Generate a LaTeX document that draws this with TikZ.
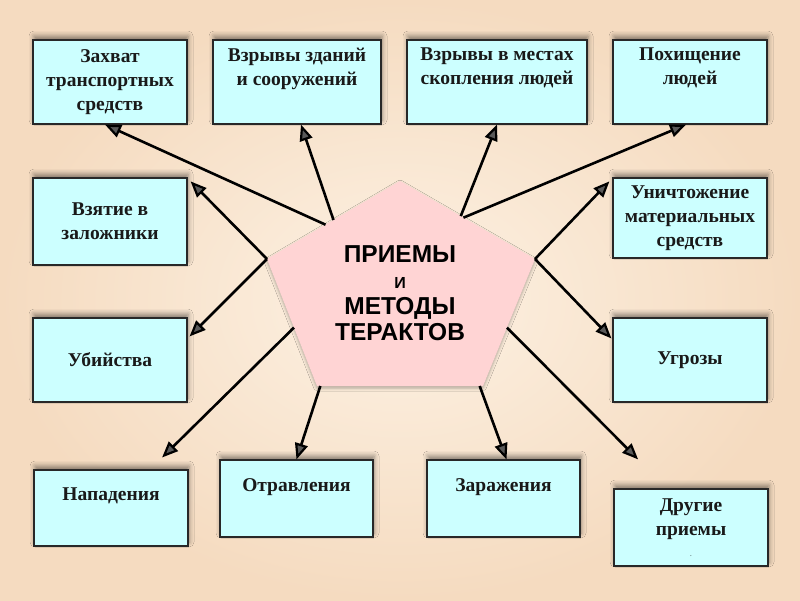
\documentclass[tikz,border=0pt]{standalone}
\usepackage{fontspec}
\setmainfont{Liberation Serif}
\setsansfont{Liberation Sans}
\usetikzlibrary{arrows.meta,calc,shadows.blur}
\definecolor{bginner}{RGB}{253,242,228}
\definecolor{bgouter}{RGB}{245,219,192}
\definecolor{boxcyan}{RGB}{204,255,255}
\definecolor{pentpink}{RGB}{255,212,212}
\definecolor{boxline}{RGB}{40,40,40}

\begin{document}
\begin{tikzpicture}[
  x=1pt, y=-1pt,
  box/.style={draw=boxline, line width=1.2pt, fill=boxcyan, align=center, inner sep=0pt, minimum width=154pt, font=\fontsize{19.5}{24}\selectfont\bfseries, text=black!90, blur shadow={shadow xshift=1pt, shadow yshift=4pt, shadow opacity=45, shadow blur radius=5pt}},
  arr/.style={-{Triangle[length=16pt, width=13pt, line width=2.2pt, fill=black!65]}, line width=2.6pt},
  title/.style={align=center, font=\sffamily\bfseries\fontsize{24.5}{26}\selectfont}
]
\shade[inner color=bginner, outer color=bgouter] (0,0) rectangle (800,600);

% boxes round the centre
\node[box, minimum height=84pt] (capture) at (110,82) {Захват\\транспортных\\средств};
\node[box, minimum width=168pt, minimum height=84pt] (blastbld) at (297,82) {Взрывы зданий\\и сооружений\\\strut};
\node[box, minimum width=180pt, minimum height=84pt] (blastcrowd) at (497,82) {Взрывы в местах\\скопления людей\\\strut};
\node[box, minimum height=84pt] (kidnap) at (690,82) {Похищение\\людей\\\strut};
\node[box, minimum height=87pt] (hostage) at (110,221.5) {Взятие в\\заложники};
\node[box, minimum height=80pt] (destroy) at (690,218) {Уничтожение\\материальных\\средств};
\node[box, minimum height=84pt] (murder) at (110,360) {Убийства};
\node[box, minimum height=84pt] (threat) at (690,360) {Угрозы};
\node[box, minimum height=76pt] (attack) at (111,508) {Нападения\\[-4pt]\strut};
\node[box, minimum width=153pt, minimum height=77pt] (poison) at (296.5,498.5) {Отравления\\[-4pt]\strut};
\node[box, minimum width=153pt, minimum height=77pt] (infect) at (503.5,498.5) {Заражения\\[-4pt]\strut};
\node[box, minimum height=77pt] (other) at (691,527.5) {Другие\\приемы\\[-3pt]{\tiny .}};

% centre pentagon
\coordinate (pT) at (400,181);
\coordinate (pL) at (267,259);
\coordinate (pR) at (535,259);
\coordinate (pBL) at (317,386);
\coordinate (pBR) at (483,386);
\fill[pentpink, blur shadow={shadow xshift=0pt, shadow yshift=-2pt, shadow opacity=30, shadow blur radius=3pt}] (pT) -- (pR) -- (pBR) -- (pBL) -- (pL) -- cycle;
\node[title] (core) at (400,293) {ПРИЕМЫ\\{\fontsize{16}{26}\selectfont И}\\МЕТОДЫ\\ТЕРАКТОВ};

\draw[arr] ($(pT)!0.56!(pL)$) -- ([xshift=-5pt]capture.south);
\draw[arr] ($(pT)!0.50!(pL)$) -- ([xshift=4pt]blastbld.south);
\draw[arr] ($(pT)!0.45!(pR)$) -- (blastcrowd.south);
\draw[arr] ($(pT)!0.47!(pR)$) -- ([xshift=-4pt]kidnap.south);
\draw[arr] (pL) -- ([xshift=3pt, yshift=-4pt]hostage.north east);
\draw[arr] (pL) -- ([xshift=2pt, yshift=-19pt]murder.north east);
\draw[arr] (pR) -- ([xshift=-3pt, yshift=-4pt]destroy.north west);
\draw[arr] (pR) -- ([xshift=-1pt, yshift=-21pt]threat.north west);
\draw[arr, shorten >=17pt] ($(pL)!0.54!(pBL)$) -- ([xshift=39pt]attack.north);
\draw[arr] ($(pBL)!0.02!(pBR)$) -- (poison.north);
\draw[arr] ($(pBL)!0.98!(pBR)$) -- ([xshift=3pt]infect.north);
\draw[arr, shorten >=41pt] ($(pR)!0.54!(pBR)$) -- ([xshift=-24pt]other.north);
\end{tikzpicture}
\end{document}
